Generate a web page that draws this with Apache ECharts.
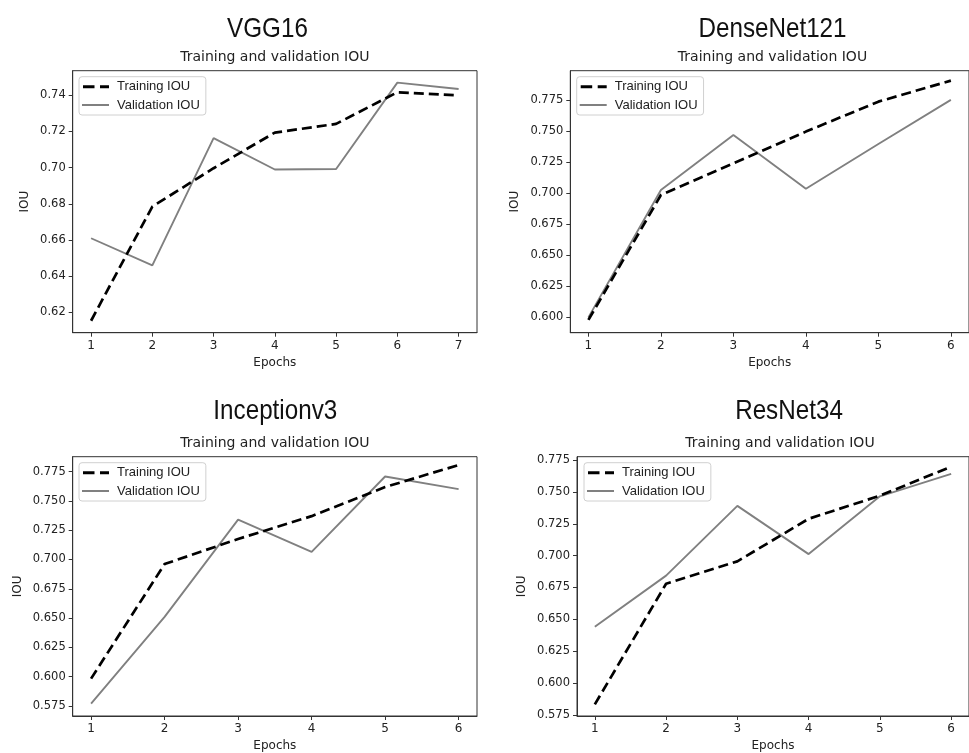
<!DOCTYPE html>
<html lang="en">
  <head>
    <meta charset="UTF-8" />
    <script src="https://cdn.jsdelivr.net/npm/echarts@6/dist/echarts.min.js"></script>
    <style>
      html,
      body {
        margin: 0;
        overflow: hidden;
        background: #fff;
      }
      #viewport {
        position: absolute;
        left: 0px;
        top: 0px;
        width: 969px;
        height: 753px;
      }
    </style>
  </head>
  <body>
    <div id="viewport"></div>
    <script>
      // values
      var epochs7 = [1, 2, 3, 4, 5, 6, 7];
      var epochs6 = [1, 2, 3, 4, 5, 6];

      var vggTrain = [0.6154, 0.6785, 0.6997, 0.7194, 0.7242, 0.7417, 0.740];
      var vggVal = [0.661, 0.646, 0.7163, 0.699, 0.6993, 0.747, 0.7435];

      var denseTrain = [0.5976, 0.6985, 0.7241, 0.7497, 0.7739, 0.7909];
      var denseVal = [0.5997, 0.7026, 0.747, 0.7036, 0.7397, 0.7753];

      var incTrain = [0.5984, 0.6961, 0.7175, 0.737, 0.7618, 0.7806];
      var incVal = [0.577, 0.651, 0.734, 0.7065, 0.7708, 0.760];

      var resTrain = [0.5833, 0.6779, 0.6955, 0.7289, 0.747, 0.7698];
      var resVal = [0.6442, 0.6843, 0.739, 0.7012, 0.7465, 0.7641];

      var vggTicks = [0.62, 0.64, 0.66, 0.68, 0.70, 0.72, 0.74];
      var denseTicks = [0.6, 0.625, 0.65, 0.675, 0.7, 0.725, 0.75, 0.775];
      var incTicks = [0.575, 0.6, 0.625, 0.65, 0.675, 0.7, 0.725, 0.75, 0.775];
      var resTicks = [0.575, 0.6, 0.625, 0.65, 0.675, 0.7, 0.725, 0.75, 0.775];

      var modelNames = ['VGG16', 'DenseNet121', 'Inceptionv3', 'ResNet34'];
      var seriesNames = ['Training IOU', 'Validation IOU'];

      function zip(xs, ys) {
        return xs.map(function (x, i) {
          return [x, ys[i]];
        });
      }

      var panels = [
        { name: modelNames[0], x: epochs7, train: vggTrain, val: vggVal, ticks: vggTicks, digits: 2,
          ymin: 0.6088, ymax: 0.7536, xmin: 0.7, xmax: 7.3,
          grid: { left: 72.7, top: 70.7, width: 404.3, height: 262 },
          title: { x: 267.5, y: 15 }, sub: 274.8, legend: { left: 79, top: 76.7 }, nameGap: 42 },
        { name: modelNames[1], x: epochs6, train: denseTrain, val: denseVal, ticks: denseTicks, digits: 3,
          ymin: 0.5873, ymax: 0.7989, xmin: 0.75, xmax: 6.25,
          grid: { left: 570.3, top: 70.7, width: 404.3, height: 262 },
          title: { x: 772.5, y: 15 }, sub: 772.5, legend: { left: 576.7, top: 76.7 }, nameGap: 49 },
        { name: modelNames[2], x: epochs6, train: incTrain, val: incVal, ticks: incTicks, digits: 3,
          ymin: 0.5665, ymax: 0.7877, xmin: 0.75, xmax: 6.25,
          grid: { left: 72.7, top: 456.7, width: 404.3, height: 261.6 },
          title: { x: 275.3, y: 397.5 }, sub: 274.8, legend: { left: 79, top: 462.7 }, nameGap: 49 },
        { name: modelNames[3], x: epochs6, train: resTrain, val: resVal, ticks: resTicks, digits: 3,
          ymin: 0.5742, ymax: 0.7776, xmin: 0.75, xmax: 6.25,
          grid: { left: 577, top: 456.7, width: 406, height: 261.6 },
          title: { x: 789, y: 397.5 }, sub: 780, legend: { left: 584, top: 462.7 }, nameGap: 49 }
      ];

      var textColor = '#222';
      var tickFont = 'DejaVu Sans';

      // legend samples drawn as paths in a 27x14 box (corner specks fix the box size)
      var boxSpecks = ' M0,0h0.01v0.01h-0.01z M26.99,13.99h0.01v0.01h-0.01z';
      var dashIcon = 'path://M1,5.5h11.5v3h-11.5z M18,5.5h9v3h-9z' + boxSpecks;
      var solidIcon = 'path://M0,6h27v2h-27z' + boxSpecks;

      var option = {
        animation: false,
        backgroundColor: '#fff',
        title: [],
        graphic: [],
        legend: [],
        grid: [],
        xAxis: [],
        yAxis: [],
        series: []
      };

      panels.forEach(function (p, i) {
        option.graphic.push({
          type: 'text',
          x: p.title.x,
          y: p.title.y,
          scaleX: 0.865,
          style: {
            text: p.name,
            fontFamily: 'Liberation Sans',
            fontSize: 28,
            fill: '#111',
            textAlign: 'center',
            textVerticalAlign: 'top'
          }
        });
        option.title.push({
          text: 'Training and validation IOU',
          left: p.sub,
          top: p.grid.top - 20,
          textAlign: 'center',
          padding: 0,
          textStyle: {
            fontFamily: tickFont,
            fontWeight: 'normal',
            fontSize: 14,
            color: textColor
          }
        });
        option.grid.push({
          left: p.grid.left,
          top: p.grid.top,
          width: p.grid.width,
          height: p.grid.height,
          show: true,
          borderColor: '#333',
          borderWidth: 1,
          containLabel: false
        });
        option.xAxis.push({
          type: 'value',
          gridIndex: i,
          min: p.xmin,
          max: p.xmax,
          name: 'Epochs',
          nameLocation: 'middle',
          nameGap: 24,
          nameTextStyle: { fontFamily: tickFont, fontSize: 12, color: textColor },
          splitLine: { show: false },
          axisLine: { show: true, lineStyle: { color: '#333', width: 1 } },
          axisTick: { show: true, inside: false, length: 4, customValues: p.x, lineStyle: { color: '#333' } },
          axisLabel: {
            customValues: p.x,
            margin: 7,
            fontFamily: tickFont,
            fontSize: 12,
            color: textColor
          }
        });
        option.yAxis.push({
          type: 'value',
          gridIndex: i,
          min: p.ymin,
          max: p.ymax,
          name: 'IOU',
          nameLocation: 'middle',
          nameGap: p.nameGap,
          nameTextStyle: { fontFamily: tickFont, fontSize: 12, color: textColor },
          splitLine: { show: false },
          axisLine: { show: true, lineStyle: { color: '#333', width: 1 } },
          axisTick: { show: true, inside: false, length: 4, customValues: p.ticks, lineStyle: { color: '#333' } },
          axisLabel: {
            customValues: p.ticks,
            margin: 7,
            fontFamily: tickFont,
            fontSize: 11.5,
            color: textColor,
            formatter: function (v) {
              return v.toFixed(p.digits);
            }
          }
        });
        option.legend.push({
          left: p.legend.left,
          top: p.legend.top,
          orient: 'vertical',
          padding: [3, 6, 3, 3],
          itemGap: 4.3,
          itemWidth: 27,
          itemHeight: 14,
          borderColor: '#d0d0d0',
          borderWidth: 1,
          borderRadius: 3,
          backgroundColor: 'rgba(255,255,255,0.8)',
          textStyle: { fontFamily: 'Liberation Sans', fontSize: 13, color: textColor, padding: [0, 0, 0, 3] },
          data: [
            { name: seriesNames[0] + ' ' + i, icon: dashIcon, itemStyle: { color: '#000', borderWidth: 0 } },
            { name: seriesNames[1] + ' ' + i, icon: solidIcon, itemStyle: { color: '#808080', borderWidth: 0 } }
          ],
          formatter: function (n) {
            return n.replace(/ \d$/, '');
          }
        });
        option.series.push({
          name: seriesNames[0] + ' ' + i,
          type: 'line',
          xAxisIndex: i,
          yAxisIndex: i,
          data: zip(p.x, p.train),
          symbol: 'none',
          z: 3,
          lineStyle: { color: '#000', width: 2.7, type: [10, 5] },
          itemStyle: { color: '#000' }
        });
        option.series.push({
          name: seriesNames[1] + ' ' + i,
          type: 'line',
          xAxisIndex: i,
          yAxisIndex: i,
          data: zip(p.x, p.val),
          symbol: 'none',
          z: 2,
          lineStyle: { color: '#808080', width: 1.9, type: 'solid' },
          itemStyle: { color: '#808080' }
        });
      });

      var myChart = echarts.init(document.getElementById('viewport'));
      myChart.setOption(option);
    </script>
  </body>
</html>
